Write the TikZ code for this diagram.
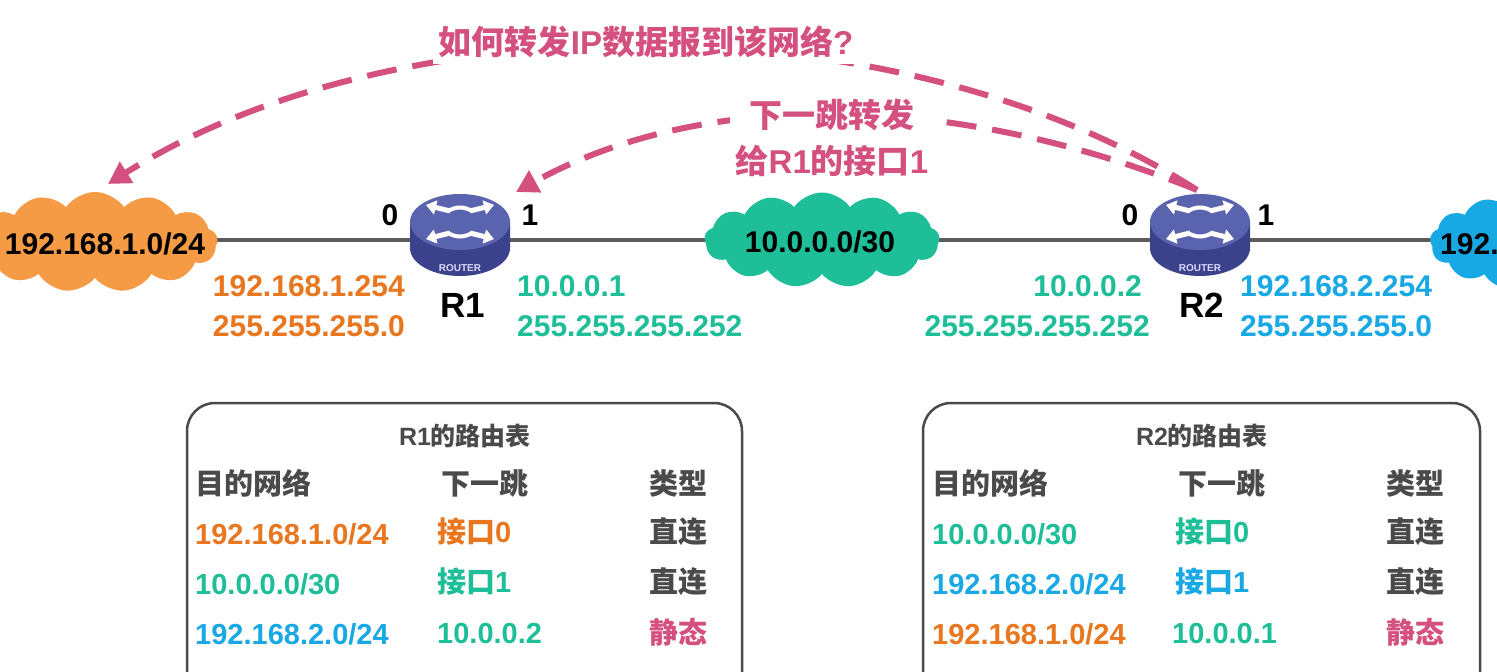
\documentclass[tikz,border=0pt]{standalone}
\usepackage{fontspec}
\setmainfont{Liberation Sans}
\newfontfamily\cjk{Noto Sans CJK SC}
\usetikzlibrary{shapes.symbols,arrows.meta}
\definecolor{cor}{HTML}{E8771F}
\definecolor{cte}{HTML}{1DBE98}
\definecolor{ccy}{HTML}{18A8E4}
\definecolor{cpk}{HTML}{D4507E}
\definecolor{cgr}{HTML}{4A4A4A}
\definecolor{cloudor}{HTML}{F59A45}
\definecolor{rtop}{HTML}{5A63AE}
\definecolor{rbot}{HTML}{3B418A}
\tikzset{
  t/.style={font=\fontsize{30}{34}\selectfont\bfseries, inner sep=0pt},
  tb/.style={font=\fontsize{29}{33}\selectfont\bfseries, inner sep=0pt},
  cl/.style={cloud, cloud puffs=13, cloud puff arc=110, aspect=2.4, inner sep=0pt, draw=none},
  pk/.style={draw=cpk, line width=6pt, dash pattern=on 30pt off 16pt, -{Triangle[length=22pt,width=24pt]}},
  tbl/.style={draw=cgr, line width=2.5pt, rounded corners=28pt},
  wa/.style={draw=white, line width=5pt, -{Triangle[length=10pt,width=14pt]}}
}
\newcommand{\router}[2]{%
  \fill[rbot] (#1-50,#2-13) -- (#1-50,#2+13) arc[start angle=180,end angle=0,x radius=50,y radius=28] -- (#1+50,#2-13) -- cycle;
  \fill[rtop] (#1,#2-13) ellipse[x radius=50,y radius=28];
  \draw[wa] (#1-10,#2-24) -- (#1-34,#2-30);
  \draw[wa] (#1+10,#2-24) -- (#1+34,#2-30);
  \draw[wa] (#1-10,#2-2) -- (#1-34,#2+4);
  \draw[wa] (#1+10,#2-2) -- (#1+34,#2+4);
  \draw[white,line width=4pt] (#1-12,#2-24) to[bend left=30] (#1+12,#2-24);
  \draw[white,line width=4pt] (#1-12,#2-2) to[bend right=30] (#1+12,#2-2);
  \node[font=\fontsize{10}{11}\selectfont\bfseries, text=white!85!blue, inner sep=0pt] at (#1,#2+33) {ROUTER};
}
\begin{document}
\begin{tikzpicture}[x=1pt,y=-1pt]
\useasboundingbox (0,0) rectangle (1497,672);
\fill[white] (0,0) rectangle (1497,672);
% link line
\coordinate (L) at (215,240);
\coordinate (Rend) at (1440,240);
\draw[cgr!90, line width=4pt] (L) -- (Rend);
% clouds
\node[cl, fill=cloudor, minimum width=245pt, minimum height=100pt] (c1) at (95,242) {};
\node[t] at (105,244) {192.168.1.0/24};
\node[cl, fill=cte, minimum width=235pt, minimum height=95pt] (c2) at (822,240) {};
\node[t] at (820,242) {10.0.0.0/30};
\node[cl, fill=ccy, minimum width=200pt, minimum height=95pt] (c3) at (1530,242) {};
\node[t, anchor=west] at (1440,244) {192.168.2.0/24};
% routers
\router{460}{235}
\router{1200}{235}
\node[t] at (390,215) {0};
\node[t] at (530,215) {1};
\node[t] at (1130,215) {0};
\node[t] at (1266,215) {1};
\node[t, font=\fontsize{35}{38}\selectfont\bfseries] at (463,305) {R1};
\node[t, font=\fontsize{35}{38}\selectfont\bfseries] at (1202,305) {R2};
% addresses
\node[t, text=cor, anchor=east] at (405,286) {192.168.1.254};
\node[t, text=cor, anchor=east] at (405,326) {255.255.255.0};
\node[t, text=cte, anchor=west] at (517,286) {10.0.0.1};
\node[t, text=cte, anchor=west] at (517,326) {255.255.255.252};
\node[t, text=cte, anchor=east] at (1142,286) {10.0.0.2};
\node[t, text=cte, anchor=east] at (1150,326) {255.255.255.252};
\node[t, text=ccy, anchor=west] at (1240,286) {192.168.2.254};
\node[t, text=ccy, anchor=west] at (1240,326) {255.255.255.0};
% arrows
\coordinate (a0) at (1197,190);
\coordinate (a1) at (108,184);
\coordinate (a2) at (516,192);
\draw[pk] (a0) .. controls (900,0) and (400,0) .. (a1);
\draw[pk] (a0) .. controls (950,90) and (700,90) .. (a2);
\node[t, fill=white, inner sep=6pt, text=cpk, font=\fontsize{33}{36}\selectfont\bfseries] (q) at (646,42) {{\cjk 如何转发}IP{\cjk 数据报到该网络}?};
\node[t, fill=white, inner sep=6pt, text=cpk, align=center, font=\fontsize{33}{46}\selectfont\bfseries] (nh) at (832,138) {{\cjk 下一跳转发}\\{\cjk 给}R1{\cjk 的接口}1};
% tables
\draw[tbl] (187,700) -- (187,403) -- (742,403) -- (742,700);
\draw[tbl] (923,700) -- (923,403) -- (1480,403) -- (1480,700);
\begin{scope}[every node/.append style={tb}]
\node[text=cgr, font=\fontsize{25}{28}\selectfont\bfseries] at (465,436) {R1{\cjk 的路由表}};
\node[text=cgr, anchor=west] at (195,483) {\cjk 目的网络};
\node[text=cgr] at (485,483) {\cjk 下一跳};
\node[text=cgr, anchor=east] at (708,483) {\cjk 类型};
\node[text=cor, anchor=west] at (195,534) {192.168.1.0/24};
\node[text=cor, anchor=west] at (437,532) {{\cjk 接口}0};
\node[text=cgr, anchor=east] at (708,532) {\cjk 直连};
\node[text=cte, anchor=west] at (195,584) {10.0.0.0/30};
\node[text=cte, anchor=west] at (437,582) {{\cjk 接口}1};
\node[text=cgr, anchor=east] at (708,582) {\cjk 直连};
\node[text=ccy, anchor=west] at (195,634) {192.168.2.0/24};
\node[text=cte, anchor=west] at (437,634) {10.0.0.2};
\node[text=cpk, anchor=east] at (708,632) {\cjk 静态};
\node[text=cgr, font=\fontsize{25}{28}\selectfont\bfseries] at (1202,436) {R2{\cjk 的路由表}};
\node[text=cgr, anchor=west] at (932,483) {\cjk 目的网络};
\node[text=cgr] at (1222,483) {\cjk 下一跳};
\node[text=cgr, anchor=east] at (1445,483) {\cjk 类型};
\node[text=cte, anchor=west] at (932,534) {10.0.0.0/30};
\node[text=cte, anchor=west] at (1175,532) {{\cjk 接口}0};
\node[text=cgr, anchor=east] at (1445,532) {\cjk 直连};
\node[text=ccy, anchor=west] at (932,584) {192.168.2.0/24};
\node[text=ccy, anchor=west] at (1175,582) {{\cjk 接口}1};
\node[text=cgr, anchor=east] at (1445,582) {\cjk 直连};
\node[text=cor, anchor=west] at (932,634) {192.168.1.0/24};
\node[text=cte, anchor=west] at (1172,634) {10.0.0.1};
\node[text=cpk, anchor=east] at (1445,632) {\cjk 静态};
\end{scope}
\end{tikzpicture}
\end{document}
